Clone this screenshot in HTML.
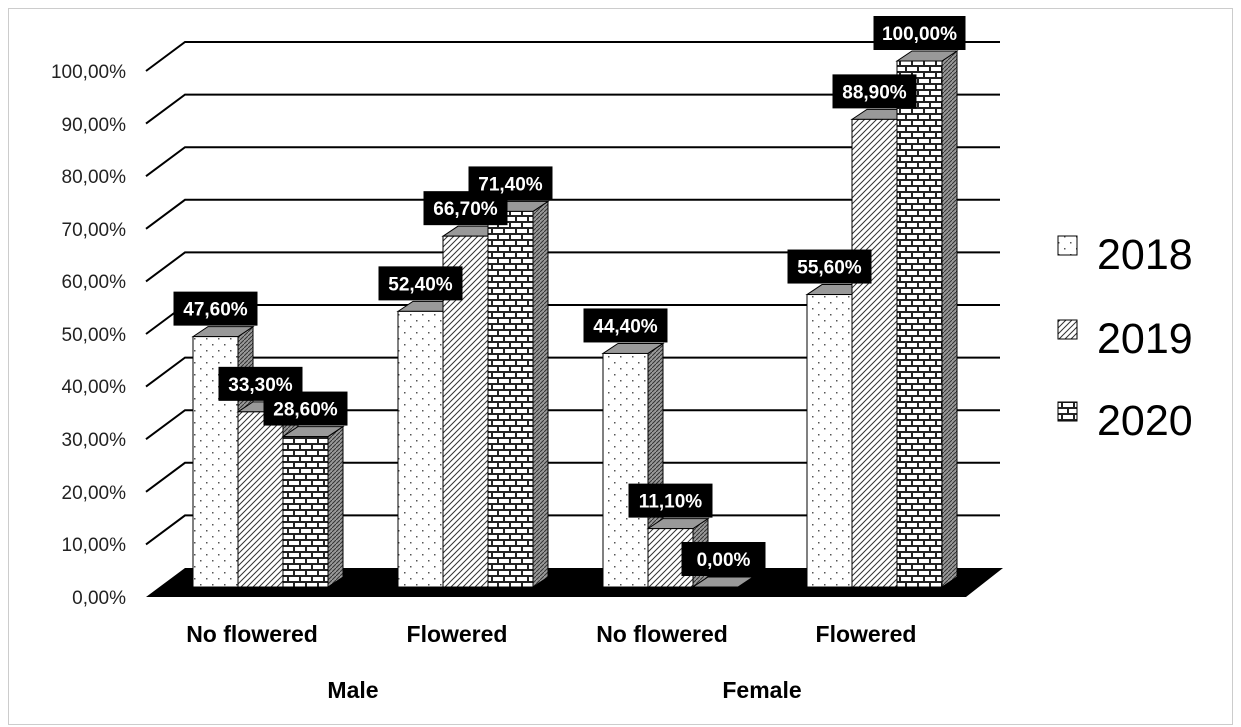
<!DOCTYPE html>
<html><head><meta charset="utf-8"><style>
html,body{margin:0;padding:0;background:#fff}
svg{display:block}
.ax{font-family:"Liberation Sans",sans-serif;font-size:19px;fill:#222}
.lb{font-family:"Liberation Sans",sans-serif;font-size:19px;font-weight:bold;fill:#fff}
.cat{font-family:"Liberation Sans",sans-serif;font-size:23px;font-weight:bold;fill:#000}
.lg{font-family:"Liberation Sans",sans-serif;font-size:43px;fill:#000}
</style></head><body>
<svg width="1241" height="727" viewBox="0 0 1241 727" xmlns="http://www.w3.org/2000/svg">
<defs>
<pattern id="dots" width="12" height="12" patternUnits="userSpaceOnUse">
<rect width="12" height="12" fill="#fff"/><rect x="2" y="2" width="1.5" height="1.5" fill="#555"/><rect x="8" y="8" width="1.5" height="1.5" fill="#555"/>
</pattern>
<pattern id="diag" width="6" height="6" patternUnits="userSpaceOnUse">
<rect width="6" height="6" fill="#fff"/><path d="M-1,7 L7,-1 M-1,1 L1,-1 M5,7 L7,5" stroke="#333" stroke-width="1"/>
</pattern>
<pattern id="brick" width="24" height="12" patternUnits="userSpaceOnUse">
<rect width="24" height="12" fill="#222"/>
<rect x="1" y="1" width="10" height="4" fill="#fff"/><rect x="13" y="1" width="10" height="4" fill="#fff"/>
<rect x="-5" y="7" width="10" height="4" fill="#fff"/><rect x="7" y="7" width="10" height="4" fill="#fff"/><rect x="19" y="7" width="10" height="4" fill="#fff"/>
</pattern>
<pattern id="side" width="4" height="4" patternUnits="userSpaceOnUse">
<rect width="4" height="4" fill="#999"/><path d="M0,4 L4,0" stroke="#333" stroke-width="1"/>
</pattern>
</defs>
<rect x="8.5" y="8.5" width="1224" height="716" fill="#fff" stroke="#ccc"/>
<g stroke="#000" stroke-width="2" fill="none">
<polyline points="146,71 185,42 1000,42"/>
<polyline points="146,123.6 185,94.6 1000,94.6"/>
<polyline points="146,176.2 185,147.2 1000,147.2"/>
<polyline points="146,228.8 185,199.8 1000,199.8"/>
<polyline points="146,281.4 185,252.4 1000,252.4"/>
<polyline points="146,334 185,305 1000,305"/>
<polyline points="146,386.6 185,357.6 1000,357.6"/>
<polyline points="146,439.2 185,410.2 1000,410.2"/>
<polyline points="146,491.8 185,462.8 1000,462.8"/>
<polyline points="146,544.4 185,515.4 1000,515.4"/>
</g>
<polygon points="146,597 185,568 1003,568 966,597" fill="#000"/>
<g class="ax" text-anchor="end">
<text x="126" y="78">100,00%</text><text x="126" y="131">90,00%</text><text x="126" y="183">80,00%</text>
<text x="126" y="236">70,00%</text><text x="126" y="288">60,00%</text><text x="126" y="341">50,00%</text>
<text x="126" y="393">40,00%</text><text x="126" y="446">30,00%</text><text x="126" y="499">20,00%</text>
<text x="126" y="551">10,00%</text><text x="126" y="604">0,00%</text>
</g>
<g id="bars" stroke="#000" stroke-width="1"></g>
<g id="labels"></g>
<g class="cat" text-anchor="middle">
<text x="252" y="642">No flowered</text><text x="457" y="642">Flowered</text>
<text x="662" y="642">No flowered</text><text x="866" y="642">Flowered</text>
<text x="353" y="698">Male</text><text x="762" y="698">Female</text>
</g>
<rect x="1058" y="236" width="19" height="19" fill="url(#dots)" stroke="#000"/>
<rect x="1058" y="320" width="19" height="19" fill="url(#diag)" stroke="#000"/>
<rect x="1058" y="402" width="19" height="19" fill="url(#brick)" stroke="#000"/>
<text class="lg" x="1097" y="269">2018</text>
<text class="lg" x="1097" y="353">2019</text>
<text class="lg" x="1097" y="435">2020</text>
<script>
(function(){
var vals=[[47.6,33.3,28.6],[52.4,66.7,71.4],[44.4,11.1,0],[55.6,88.9,100]];
var gx=[193,398,603,807],fills=['url(#dots)','url(#diag)','url(#brick)'];
var ns="http://www.w3.org/2000/svg",B=document.getElementById('bars'),L=document.getElementById('labels');
function el(p,t,a){var e=document.createElementNS(ns,t);for(var k in a)e.setAttribute(k,a[k]);p.appendChild(e);return e;}
var base=587,sc=5.26,w=45,dx=15,dy=-10;
for(var g=0;g<4;g++)for(var s=0;s<3;s++){
 var x=gx[g]+s*w,v=vals[g][s],ty=base-v*sc;
 el(B,'polygon',{points:(x+w)+','+ty+' '+(x+w+dx)+','+(ty+dy)+' '+(x+w+dx)+','+(base+dy)+' '+(x+w)+','+base,fill:'url(#side)'});
 el(B,'polygon',{points:x+','+ty+' '+(x+dx)+','+(ty+dy)+' '+(x+w+dx)+','+(ty+dy)+' '+(x+w)+','+ty,fill:'#999'});
 if(v>0)el(B,'rect',{x:x,y:ty,width:w,height:base-ty,fill:fills[s]});
}
for(var g=0;g<4;g++)for(var s=0;s<3;s++){
 var x=gx[g]+s*w,v=vals[g][s],ty=base-v*sc,cx=x+w/2+(v==0?8:0);
 var t=v.toFixed(2).replace('.',',')+'%',bw=t.length>6?92:84;
 el(L,'rect',{x:cx-bw/2,y:ty-45,width:bw,height:34,fill:'#000'});
 var tx=el(L,'text',{x:cx,y:ty-21,'text-anchor':'middle','class':'lb'});tx.textContent=t;
}
})();
</script>
</svg>
</body></html>
